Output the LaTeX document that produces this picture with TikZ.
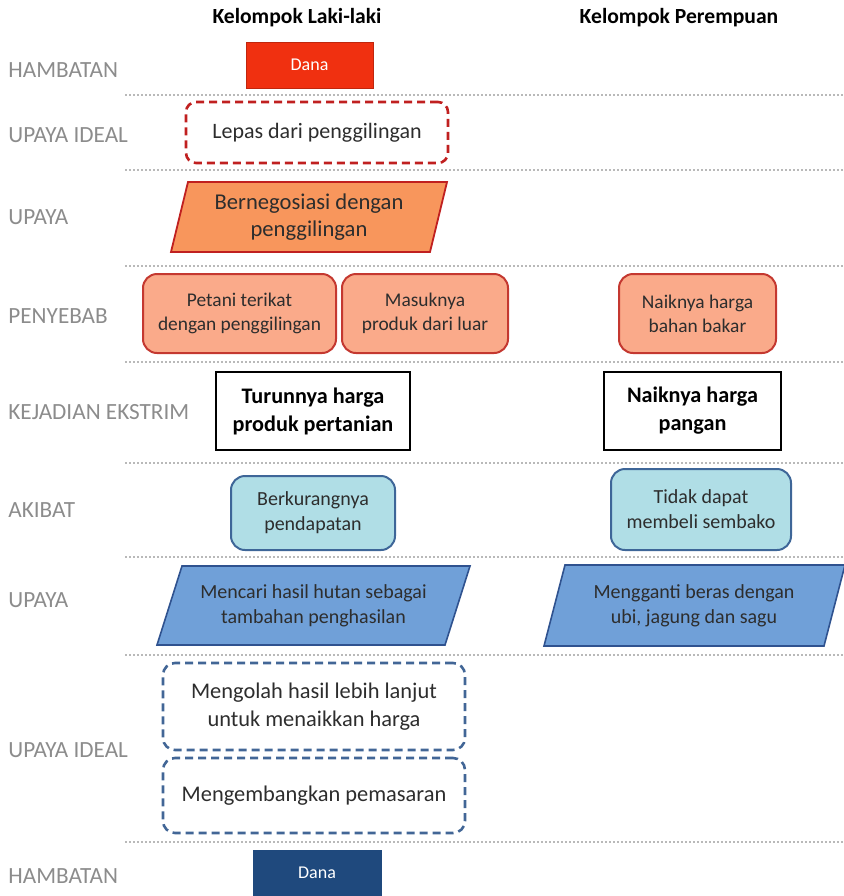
\documentclass[tikz,border=0pt]{standalone}
\usepackage{fontspec}
\setmainfont{Carlito}
\usepackage{xcolor}
\usetikzlibrary{positioning,calc}
\definecolor{labelgray}{RGB}{140,140,140}
\definecolor{linegray}{RGB}{185,185,185}
\definecolor{danared}{RGB}{240,48,16}
\definecolor{darkred}{RGB}{192,32,32}
\definecolor{orangefill}{RGB}{248,150,92}
\definecolor{salmon}{RGB}{250,170,138}
\definecolor{salmonedge}{RGB}{196,56,48}
\definecolor{lightcyan}{RGB}{176,222,230}
\definecolor{steelblue}{RGB}{62,102,152}
\definecolor{midblue}{RGB}{112,160,216}
\definecolor{midedge}{RGB}{47,82,143}
\definecolor{dashblue}{RGB}{66,102,150}
\definecolor{navy}{RGB}{31,73,125}
\definecolor{bodytext}{RGB}{45,45,45}

\begin{document}
\begin{tikzpicture}[x=0.5pt, y=-0.5pt, every node/.style={align=center, text=bodytext}]
    \useasboundingbox (0,0) rectangle (843,896);

    % Column titles
    \node[font=\bfseries\fontsize{10.8}{12}\selectfont, text=black] (laki) at (297,18) {Kelompok Laki-laki};
    \node[font=\bfseries\fontsize{10.8}{12}\selectfont, text=black] (perempuan) at (679,18) {Kelompok Perempuan};

    % Row labels
    \tikzset{rowlabel/.style={anchor=west, inner sep=0pt, text=labelgray, font=\fontsize{11.6}{13}\selectfont}}
    \node[rowlabel] (l1) at (8,70) {HAMBATAN};
    \node[rowlabel] (l2) at (8,135) {UPAYA IDEAL};
    \node[rowlabel] (l3) at (8,217) {UPAYA};
    \node[rowlabel] (l4) at (8,316) {PENYEBAB};
    \node[rowlabel] (l5) at (8,412) {KEJADIAN EKSTRIM};
    \node[rowlabel] (l6) at (8,510) {AKIBAT};
    \node[rowlabel] (l7) at (8,600) {UPAYA};
    \node[rowlabel] (l8) at (8,750) {UPAYA IDEAL};
    \node[rowlabel] (l9) at (8,876) {HAMBATAN};

    % Separators
    \foreach \y in {95,170,266,362,463,557,655,842}
        \draw[linegray, line width=1pt, densely dotted] (125,\y) -- (843,\y);

    % Hambatan (top)
    \node[fill=danared, draw=danared!80!black, rectangle, minimum width=63.5pt, minimum height=23pt, text=white, font=\fontsize{9}{10}\selectfont] (dana1) at (309.5,65) {Dana};

    % Upaya ideal (top)
    \node[draw=darkred, line width=1.3pt, dash pattern=on 4pt off 2.5pt, rounded corners=5pt, minimum width=131pt, minimum height=30.5pt, font=\fontsize{11}{13}\selectfont] (lepas) at (317,132.5) {Lepas dari penggilingan};

    % Upaya (top)
    \fill[orangefill, draw=darkred, line width=0.9pt] (188,182) -- (447,182) -- (430,252) -- (171,252) -- cycle;
    \node[font=\fontsize{11.3}{13.5}\selectfont] (nego) at (309,217) {Bernegosiasi dengan\\penggilingan};

    % Penyebab
    \tikzset{penyebab/.style={fill=salmon, draw=salmonedge, line width=1pt, rounded corners=7pt, minimum height=39.5pt, font=\fontsize{9.7}{12}\selectfont}}
    \node[penyebab, minimum width=96.5pt] (petani) at (239.5,313.5) {Petani terikat\\dengan penggilingan};
    \node[penyebab, minimum width=83pt] (masuk) at (425,313.5) {Masuknya\\produk dari luar};
    \node[penyebab, minimum width=78.5pt] (bbm) at (697.5,313.5) {Naiknya harga\\bahan bakar};

    % Kejadian ekstrim
    \tikzset{kejadian/.style={fill=white, draw=black, line width=1pt, minimum height=39pt, text=black, font=\bfseries\fontsize{11.1}{14}\selectfont}}
    \node[kejadian, minimum width=97pt] (turun) at (313,411) {Turunnya harga\\produk pertanian};
    \node[kejadian, minimum width=88.5pt] (pangan) at (692.5,411) {Naiknya harga\\pangan};

    % Akibat
    \tikzset{akibat/.style={fill=lightcyan, draw=steelblue, line width=1pt, rounded corners=7pt, font=\fontsize{10}{12.5}\selectfont}}
    \node[akibat, minimum width=82pt, minimum height=37pt] (kurang) at (313,513) {Berkurangnya\\pendapatan};
    \node[akibat, minimum width=90pt, minimum height=40.5pt] (sembako) at (701,509.5) {Tidak dapat\\membeli sembako};

    % Upaya (bottom)
    \fill[midblue, draw=midedge, line width=0.8pt] (182,566) -- (470,566) -- (445,645) -- (157,645) -- cycle;
    \fill[midblue, draw=midedge, line width=0.8pt] (565,565) -- (845,565) -- (824,646) -- (544,646) -- cycle;
    \node[font=\fontsize{10}{12.5}\selectfont] (hutan) at (313.5,605.5) {Mencari hasil hutan sebagai\\tambahan penghasilan};
    \node[font=\fontsize{10}{12.5}\selectfont] (beras) at (694,605.5) {Mengganti beras dengan\\ubi, jagung dan sagu};

    % Upaya ideal (bottom)
    \tikzset{idealbox/.style={draw=dashblue, line width=1.3pt, dash pattern=on 4pt off 2.5pt, rounded corners=6pt, minimum width=151pt, font=\fontsize{11.2}{14}\selectfont}}
    \node[idealbox, minimum height=43.5pt] (olah) at (314,706.5) {Mengolah hasil lebih lanjut\\untuk menaikkan harga};
    \node[idealbox, minimum height=37.5pt] (pasar) at (314,795.5) {Mengembangkan pemasaran};

    % Hambatan (bottom)
    \node[fill=navy, draw=navy, rectangle, minimum width=64pt, minimum height=23pt, text=white, font=\fontsize{9}{10}\selectfont] (dana2) at (317,873) {Dana};

\end{tikzpicture}
\end{document}
